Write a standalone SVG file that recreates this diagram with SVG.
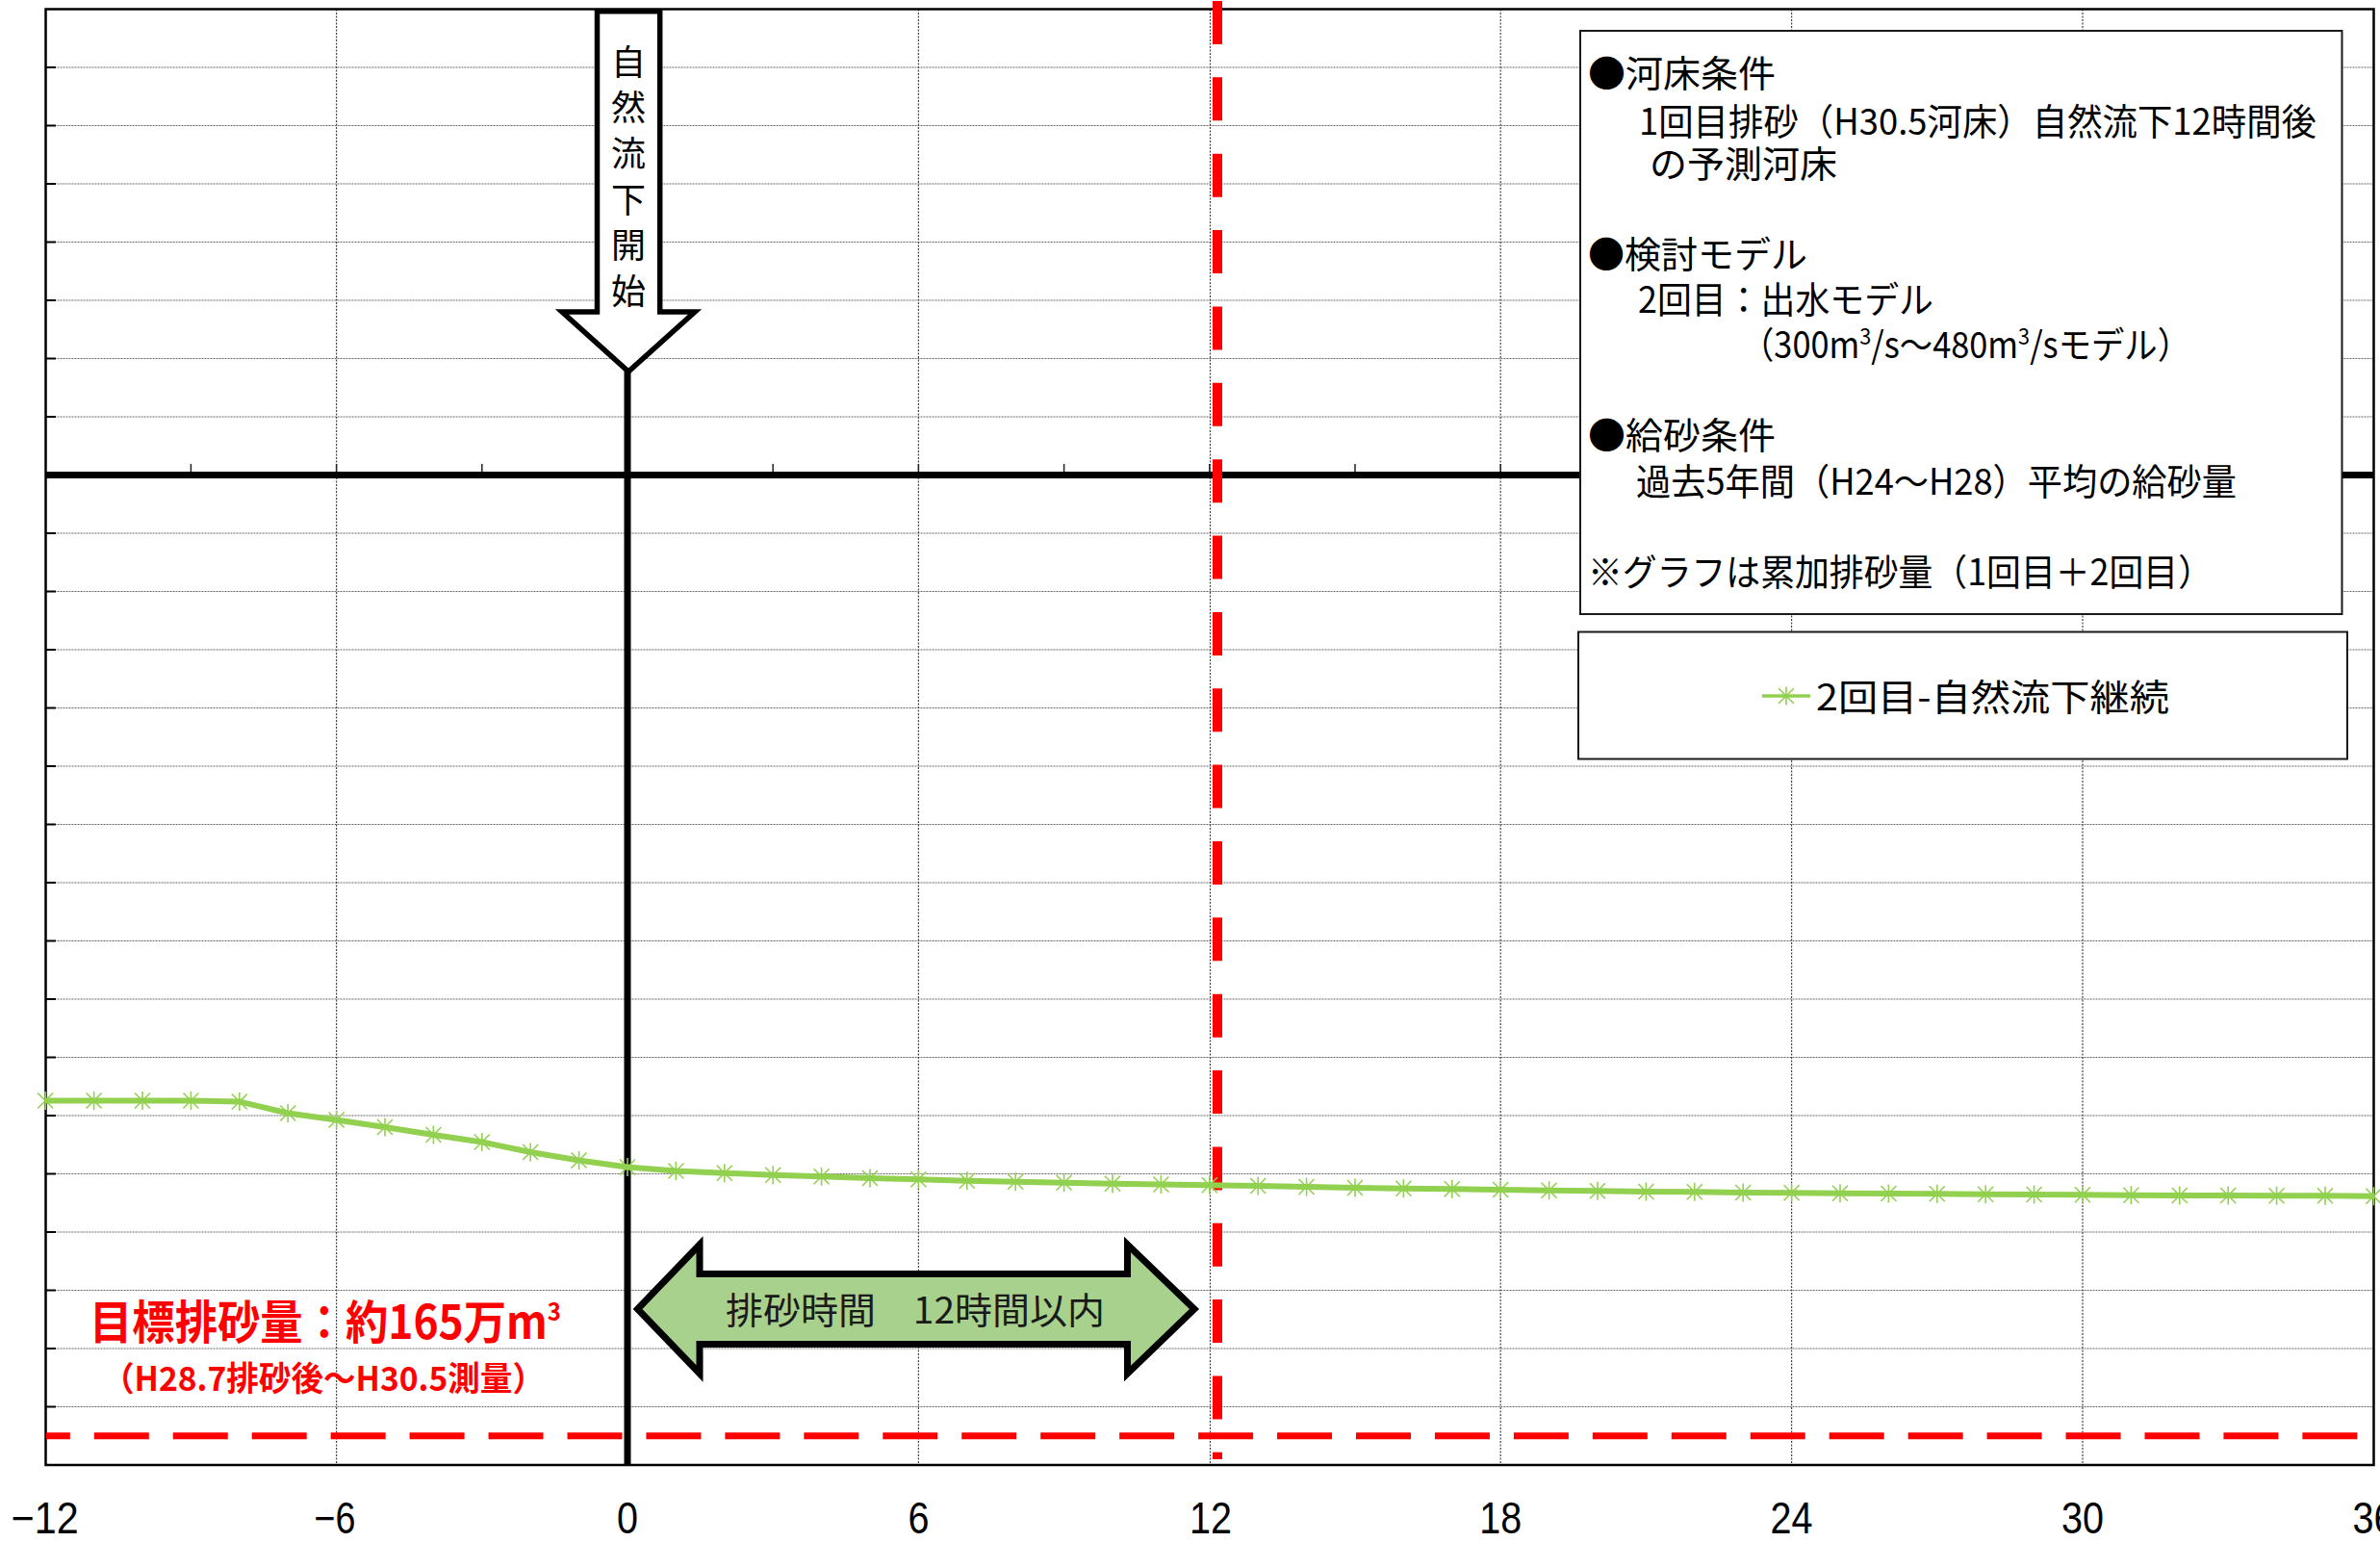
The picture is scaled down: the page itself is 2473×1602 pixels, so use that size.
<svg xmlns="http://www.w3.org/2000/svg" width="2473" height="1602" viewBox="0 0 2473 1602">
<style>
.grid{stroke:#6b6b6b;stroke-width:1.2;stroke-dasharray:2 1;fill:none}
.vgrid{stroke:#444;stroke-width:1.2;stroke-dasharray:2 1.5;fill:none}
.tick{stroke:#000;stroke-width:2;fill:none}
.jp{font-family:"Noto Sans CJK JP","Noto Sans",sans-serif}
.leg{font-size:38px;fill:#000}
.ax{font-family:"Liberation Sans",Arial,sans-serif;font-size:46px;fill:#000;text-anchor:middle}
.red{fill:#ff0000;font-weight:bold}
.box{fill:#fff;stroke:#1a1a1a;stroke-width:2}
.sup{font-size:24px;baseline-shift:14px}
</style>
<defs>
<g id="star" stroke="#92D050" stroke-width="1.6" fill="none"><path d="M-8,-8L8,8M-8,8L8,-8M0,-9.5V9.5"/></g>
</defs>
<rect width="2473" height="1602" fill="#fff"/>
<g id="plot-grid">
<path class="grid" d="M47.5,70H2466.5M47.5,130.5H2466.5M47.5,191H2466.5M47.5,251.5H2466.5M47.5,312H2466.5M47.5,372.5H2466.5M47.5,433H2466.5M47.5,554H2466.5M47.5,614.5H2466.5M47.5,675H2466.5M47.5,735.5H2466.5M47.5,796H2466.5M47.5,856.5H2466.5M47.5,917H2466.5M47.5,977.5H2466.5M47.5,1038H2466.5M47.5,1098.5H2466.5M47.5,1159H2466.5M47.5,1219.5H2466.5M47.5,1280H2466.5M47.5,1340.5H2466.5M47.5,1401H2466.5M47.5,1461.5H2466.5"/>
<path class="vgrid" d="M349.6,9.5V1522M954.4,9.5V1522M1257.5,9.5V1522M1559.2,9.5V1522M1861.6,9.5V1522M2164,9.5V1522"/>
<rect x="47.5" y="9.5" width="2419" height="1512.5" fill="none" stroke="#000" stroke-width="2.5"/>
<path class="tick" d="M47.5,70H58M47.5,130.5H58M47.5,191H58M47.5,251.5H58M47.5,312H58M47.5,372.5H58M47.5,433H58M47.5,554H58M47.5,614.5H58M47.5,675H58M47.5,735.5H58M47.5,796H58M47.5,856.5H58M47.5,917H58M47.5,977.5H58M47.5,1038H58M47.5,1098.5H58M47.5,1159H58M47.5,1219.5H58M47.5,1280H58M47.5,1340.5H58M47.5,1401H58M47.5,1461.5H58"/>
<path stroke="#222" stroke-width="1.5" fill="none" d="M198.4,482V490M349.6,482V490M500.8,482V490M803.2,482V490M954.4,482V490M1105.6,482V490M1256.8,482V490M1408,482V490M1559.2,482V490M1710.4,482V490M1861.6,482V490M2012.8,482V490M2164,482V490M2315.2,482V490"/>
<path d="M47.5,493.4H2466.5" stroke="#000" stroke-width="7"/>
</g>
<g id="connectors">
<path d="M652,386V1522" stroke="#000" stroke-width="7"/>
<path d="M48,1491.7H2450" stroke="#ff0000" stroke-width="7" stroke-dasharray="57 24.95" stroke-dashoffset="32.15"/>
<path d="M1265,1V1516" stroke="#ff0000" stroke-width="10" stroke-dasharray="45 34.36"/>
</g>
<g id="series">
<polyline fill="none" stroke="#92D050" stroke-width="6" stroke-linejoin="round" points="47.2,1143.5 97.6,1143.5 148,1143.5 198.4,1143.5 248.8,1144.5 299.2,1156.5 349.6,1163.5 400,1171 450.4,1179 500.8,1186.5 551.2,1197 601.6,1205.5 652,1212.5 702.4,1216.5 752.8,1218.7 803.2,1220.7 853.6,1222.3 904,1224 954.4,1225.3 1004.8,1226.7 1055.2,1227.7 1105.6,1228.7 1156,1229.7 1206.4,1230.5 1256.8,1231.3 1307.2,1232 1357.6,1233 1408,1234 1458.4,1234.7 1508.8,1235.3 1559.2,1236 1609.6,1236.7 1660,1237.3 1710.4,1238 1760.8,1238.3 1811.2,1239 1861.6,1239.3 1912,1239.7 1962.4,1240 2012.8,1240.3 2063.2,1240.7 2113.6,1241 2164,1241.3 2214.4,1241.7 2264.8,1242 2315.2,1242 2365.6,1242.3 2416,1242.3 2466.4,1242.7"/>
<use href="#star" x="47.2" y="1143.5"/><use href="#star" x="97.6" y="1143.5"/><use href="#star" x="148" y="1143.5"/><use href="#star" x="198.4" y="1143.5"/><use href="#star" x="248.8" y="1144.5"/><use href="#star" x="299.2" y="1156.5"/><use href="#star" x="349.6" y="1163.5"/><use href="#star" x="400" y="1171"/><use href="#star" x="450.4" y="1179"/><use href="#star" x="500.8" y="1186.5"/><use href="#star" x="551.2" y="1197"/><use href="#star" x="601.6" y="1205.5"/><use href="#star" x="652" y="1212.5"/><use href="#star" x="702.4" y="1216.5"/><use href="#star" x="752.8" y="1218.7"/><use href="#star" x="803.2" y="1220.7"/><use href="#star" x="853.6" y="1222.3"/><use href="#star" x="904" y="1224"/><use href="#star" x="954.4" y="1225.3"/><use href="#star" x="1004.8" y="1226.7"/><use href="#star" x="1055.2" y="1227.7"/><use href="#star" x="1105.6" y="1228.7"/><use href="#star" x="1156" y="1229.7"/><use href="#star" x="1206.4" y="1230.5"/><use href="#star" x="1256.8" y="1231.3"/><use href="#star" x="1307.2" y="1232"/><use href="#star" x="1357.6" y="1233"/><use href="#star" x="1408" y="1234"/><use href="#star" x="1458.4" y="1234.7"/><use href="#star" x="1508.8" y="1235.3"/><use href="#star" x="1559.2" y="1236"/><use href="#star" x="1609.6" y="1236.7"/><use href="#star" x="1660" y="1237.3"/><use href="#star" x="1710.4" y="1238"/><use href="#star" x="1760.8" y="1238.3"/><use href="#star" x="1811.2" y="1239"/><use href="#star" x="1861.6" y="1239.3"/><use href="#star" x="1912" y="1239.7"/><use href="#star" x="1962.4" y="1240"/><use href="#star" x="2012.8" y="1240.3"/><use href="#star" x="2063.2" y="1240.7"/><use href="#star" x="2113.6" y="1241"/><use href="#star" x="2164" y="1241.3"/><use href="#star" x="2214.4" y="1241.7"/><use href="#star" x="2264.8" y="1242"/><use href="#star" x="2315.2" y="1242"/><use href="#star" x="2365.6" y="1242.3"/><use href="#star" x="2416" y="1242.3"/><use href="#star" x="2466.4" y="1242.7"/>
</g>
<g id="start-arrow">
<polygon points="620.5,11.7 685.7,11.7 685.7,324 722,324 653,386 584,324 620.5,324" fill="#fff" stroke="#000" stroke-width="5.5"/>
<text class="jp" font-size="36" fill="#000" text-anchor="middle"><tspan x="653" y="77.7">自</tspan><tspan x="653" y="125.3">然</tspan><tspan x="653" y="172.9">流</tspan><tspan x="653" y="220.5">下</tspan><tspan x="653" y="268.1">開</tspan><tspan x="653" y="315.7">始</tspan></text>
</g>
<g id="duration-arrow">
<polygon points="662.5,1360 727,1293 727,1323.5 1171.5,1323.5 1171.5,1293 1241,1360 1171.5,1427 1171.5,1396.5 727,1396.5 727,1427" fill="#A9D18E" stroke="#000" stroke-width="7"/>
<text class="jp" x="754" y="1374.5" font-size="38" fill="#1a1a1a" textLength="394" lengthAdjust="spacingAndGlyphs">排砂時間　12時間以内</text>
</g>
<g id="target-label">
<text class="jp red" x="93" y="1391" font-size="48" textLength="490" lengthAdjust="spacingAndGlyphs">目標排砂量：約165万m<tspan font-size="26" baseline-shift="19">3</tspan></text>
<text class="jp red" x="106" y="1445" font-size="35" textLength="460" lengthAdjust="spacingAndGlyphs">（H28.7排砂後～H30.5測量）</text>
</g>
<g id="legend-info">
<rect class="box" x="1642" y="32" width="791.5" height="606"/>
<text class="jp leg" x="1650" y="90.4" textLength="195" lengthAdjust="spacingAndGlyphs">●河床条件</text>
<text class="jp leg" x="1703" y="139.9" textLength="704" lengthAdjust="spacingAndGlyphs">1回目排砂（H30.5河床）自然流下12時間後</text>
<text class="jp leg" x="1714" y="184.4" textLength="195" lengthAdjust="spacingAndGlyphs">の予測河床</text>
<text class="jp leg" x="1650" y="278.4" textLength="228" lengthAdjust="spacingAndGlyphs">●検討モデル</text>
<text class="jp leg" x="1702" y="325.4" textLength="307" lengthAdjust="spacingAndGlyphs">2回目：出水モデル</text>
<text class="jp leg" x="1809" y="372.4" textLength="467" lengthAdjust="spacingAndGlyphs">（300m<tspan class="sup">3</tspan>/s～480m<tspan class="sup">3</tspan>/sモデル）</text>
<text class="jp leg" x="1650" y="466.4" textLength="195" lengthAdjust="spacingAndGlyphs">●給砂条件</text>
<text class="jp leg" x="1700" y="513.9" textLength="624" lengthAdjust="spacingAndGlyphs">過去5年間（H24～H28）平均の給砂量</text>
<text class="jp leg" x="1650" y="608" textLength="649" lengthAdjust="spacingAndGlyphs">※グラフは累加排砂量（1回目＋2回目）</text>
</g>
<g id="legend-series">
<rect class="box" x="1640" y="656.5" width="799" height="132"/>
<path d="M1831,723H1881" stroke="#92D050" stroke-width="3.5"/>
<use href="#star" x="1856" y="723"/>
<text class="jp leg" x="1887" y="738" textLength="367" lengthAdjust="spacingAndGlyphs">2回目-自然流下継続</text>
</g>
<g id="x-labels">
<text class="ax" x="46.7" y="1593" textLength="70" lengthAdjust="spacingAndGlyphs">−12</text>
<text class="ax" x="348" y="1593" textLength="43" lengthAdjust="spacingAndGlyphs">−6</text>
<text class="ax" x="652" y="1593" textLength="22" lengthAdjust="spacingAndGlyphs">0</text>
<text class="ax" x="954.4" y="1593" textLength="22" lengthAdjust="spacingAndGlyphs">6</text>
<text class="ax" x="1258" y="1593" textLength="44" lengthAdjust="spacingAndGlyphs">12</text>
<text class="ax" x="1559.2" y="1593" textLength="44" lengthAdjust="spacingAndGlyphs">18</text>
<text class="ax" x="1861.6" y="1593" textLength="44" lengthAdjust="spacingAndGlyphs">24</text>
<text class="ax" x="2164" y="1593" textLength="44" lengthAdjust="spacingAndGlyphs">30</text>
<text class="ax" x="2466.4" y="1593" textLength="44" lengthAdjust="spacingAndGlyphs">36</text>
</g>
</svg>
